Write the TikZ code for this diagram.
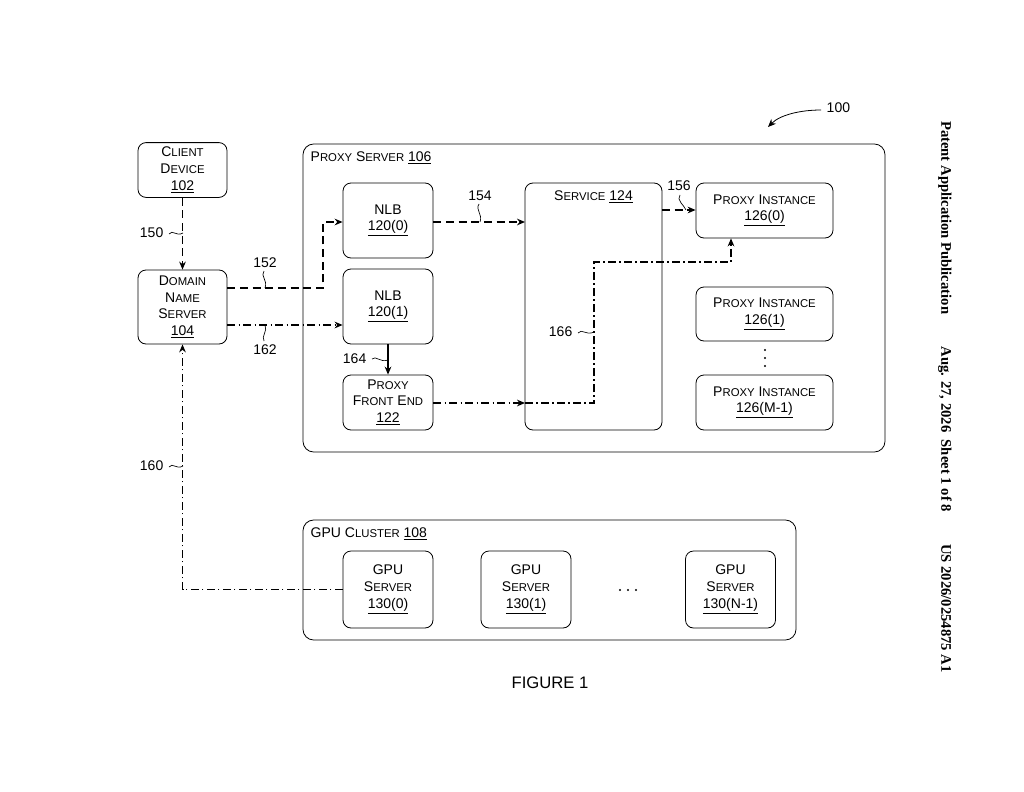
\documentclass[tikz,border=0pt]{standalone}
\usepackage{fontspec}
\setmainfont{Liberation Sans}
\newfontfamily\serifb{Liberation Serif}
\usetikzlibrary{arrows.meta}
\newcommand{\SC}[2]{#1{\fontsize{8.5}{10}\selectfont #2}}
\begin{document}
\begin{tikzpicture}[x=0.75pt,y=-0.75pt,
  box/.style={draw,rounded corners=6pt,line width=0.6pt,align=center,font=\fontsize{10.5}{12.5}\selectfont},
  frame/.style={draw,rounded corners=8pt,line width=0.6pt},
  ar/.style={-{Stealth[length=6pt,width=5pt]},line width=0.9pt},
  dsh/.style={ar,dash pattern=on 6pt off 3.5pt},
  dd/.style={ar,dash pattern=on 6pt off 2.5pt on 1pt off 2.5pt},
  lbl/.style={font=\fontsize{10.5}{12}\selectfont},
  sq/.style={line width=0.5pt}]
\useasboundingbox (0,0) rectangle (1024,792);
% frames
\draw[frame] (303,144) rectangle (885,452);
\node[anchor=north west,lbl] at (306,147) {\SC{P}{ROXY} \SC{S}{ERVER} \underline{106}};
\draw[frame] (303,520) rectangle (796,640);
\node[anchor=north west,lbl] at (306,523) {GPU \SC{C}{LUSTER} \underline{108}};
% nodes
\node[box,minimum width=89pt*0.75,minimum height=54*0.75pt] (client) at (182.5,170) {\SC{C}{LIENT}\\\SC{D}{EVICE}\\\underline{102}};
\node[box,minimum width=89*0.75pt,minimum height=74*0.75pt] (dns) at (182.5,307) {\SC{D}{OMAIN}\\\SC{N}{AME}\\\SC{S}{ERVER}\\\underline{104}};
\node[box,minimum width=90*0.75pt,minimum height=75*0.75pt] (nlb0) at (388,220.5) {NLB\\\underline{120(0)}};
\node[box,minimum width=90*0.75pt,minimum height=75*0.75pt] (nlb1) at (388,306.5) {NLB\\\underline{120(1)}};
\node[box,minimum width=90*0.75pt,minimum height=55*0.75pt] (pfe) at (388,402.5) {\SC{P}{ROXY}\\\SC{F}{RONT} \SC{E}{ND}\\\underline{122}};
\draw[box] (525,183) rectangle (662,430);
\coordinate (svcL1) at (525,222);
\coordinate (svcL2) at (525,403);
\coordinate (svcR) at (662,210);
\node[lbl] (svc) at (593.5,197) {\SC{S}{ERVICE} \underline{124}};
\node[box,minimum width=137*0.75pt,minimum height=55*0.75pt] (pi0) at (764.5,210.5) {\SC{P}{ROXY} \SC{I}{NSTANCE}\\\underline{126(0)}};
\node[box,minimum width=137*0.75pt,minimum height=54*0.75pt] (pi1) at (764.5,314) {\SC{P}{ROXY} \SC{I}{NSTANCE}\\\underline{126(1)}};
\node[box,minimum width=137*0.75pt,minimum height=55*0.75pt] (pim) at (764.5,402.5) {\SC{P}{ROXY} \SC{I}{NSTANCE}\\\underline{126(M-1)}};
\foreach \yy in {350,358,366} \fill (765,\yy) circle (0.9pt);
\node[box,minimum width=90*0.75pt,minimum height=77*0.75pt] (g0) at (388,589.5) {GPU\\\SC{S}{ERVER}\\\underline{130(0)}};
\node[box,minimum width=90*0.75pt,minimum height=77*0.75pt] (g1) at (526,589.5) {GPU\\\SC{S}{ERVER}\\\underline{130(1)}};
\node[box,minimum width=90*0.75pt,minimum height=77*0.75pt] (g2) at (730.5,589.5) {GPU\\\SC{S}{ERVER}\\\underline{130(N-1)}};
\foreach \xx in {620,628,636} \fill (\xx,590) circle (0.9pt);
% connectors
\draw[dsh] (client) -- (dns);
\draw[dsh] (dns.east|-0,288) -| (323,222) -- (nlb0.west|-0,222);
\draw[dsh] (nlb0.east|-0,222) -- (svcL1);
\draw[dsh] (svcR) -- (pi0.west|-0,210);
\draw[dd] (dns.east|-0,325) -- (nlb1.west|-0,325);
\draw[ar] (nlb1) -- (pfe);
\draw[dd] (pfe.east|-0,403) -- (svcL2);
\draw[dd] (svcL2) -| (594,262) -| (pi0.south-|731,0);
\draw[dd] (g0.west) -| (dns.south);
% labels with squiggles
\node[lbl,anchor=east] at (168,233) {150};
\draw[sq] (169,234) .. controls (173,229) and (176,237) .. (183,233);
\node[lbl] at (265,263) {152};
\draw[sq] (264,271) .. controls (260,276) and (268,280) .. (265,288);
\node[lbl] at (480,196) {154};
\draw[sq] (479,204) .. controls (475,210) and (483,214) .. (480,222);
\node[lbl] at (679,186) {156};
\draw[sq] (680,195) .. controls (676,200) and (684,205) .. (686,210);
\node[lbl] at (265,350) {162};
\draw[sq] (264,341) .. controls (261,336) and (268,331) .. (265,325);
\node[lbl,anchor=east] at (371,359) {164};
\draw[sq] (372,359) .. controls (376,355) and (380,363) .. (388,360);
\node[lbl,anchor=east] at (577,332) {166};
\draw[sq] (578,333) .. controls (582,328) and (586,336) .. (594,332);
\node[lbl,anchor=east] at (168,466) {160};
\draw[sq] (169,467) .. controls (173,462) and (176,470) .. (183,466);
\node[lbl,anchor=west] at (822,108) {100};
\draw[-{Stealth[length=6pt,width=5pt]},line width=0.6pt] (821,110) .. controls (800,110) and (780,115) .. (768,127);
\node[font=\fontsize{12.5}{14}\selectfont] at (550,683) {FIGURE 1};
\node[rotate=-90,font=\serifb\bfseries\fontsize{11}{12}\selectfont] at (945,397) {Patent Application Publication\hspace{2.2em}Aug. 27, 2026\ \ Sheet 1 of 8\hspace{2.2em}US 2026/0254875 A1};
\end{tikzpicture}
\end{document}
